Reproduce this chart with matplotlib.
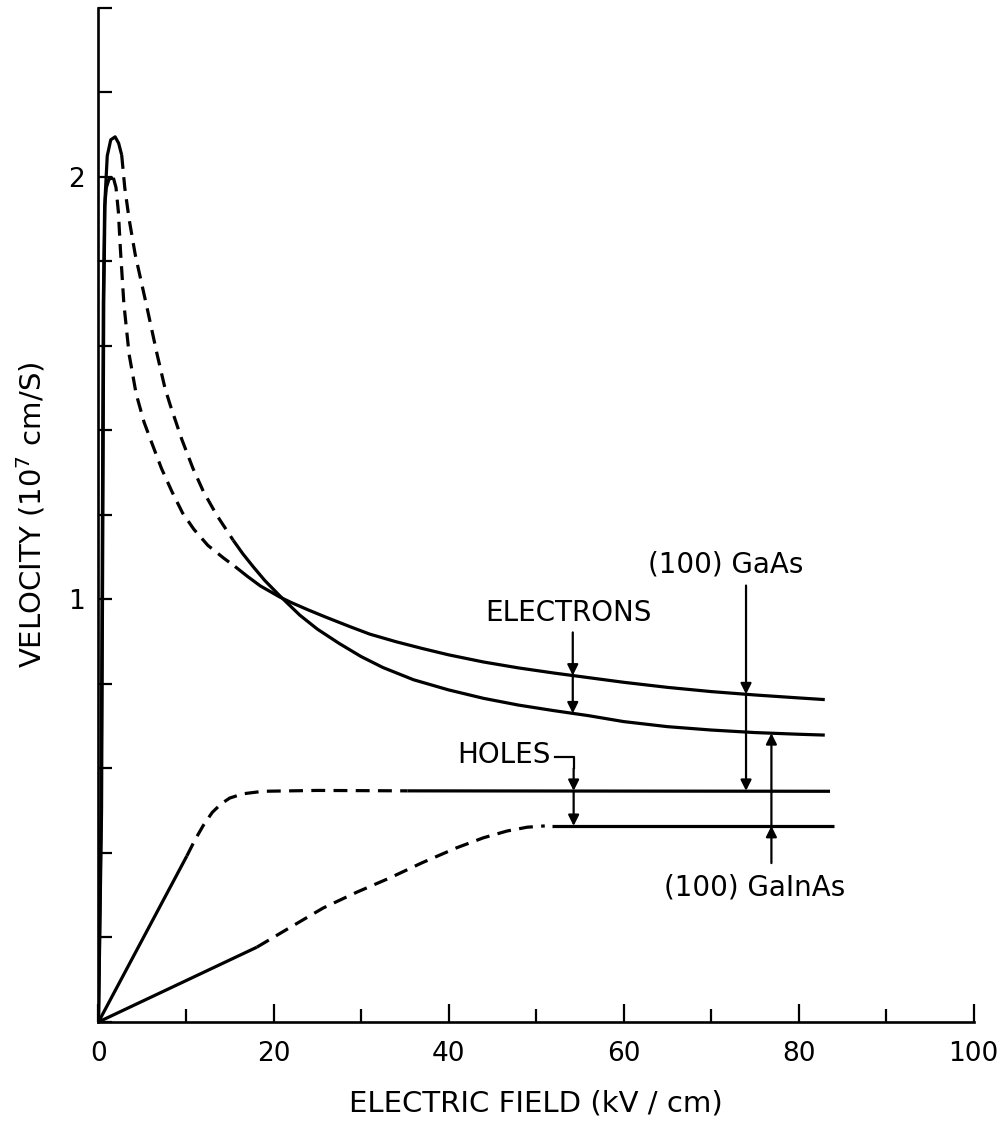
import numpy as np
import matplotlib
matplotlib.use("Agg")
import matplotlib.pyplot as plt
from matplotlib.ticker import MultipleLocator, FixedLocator

# --- data (field in kV/cm, velocity in 1e7 cm/s) ---
# (100) GaInAs electrons: higher, sharper peak, lower saturation
gainas_e_rise_x = [0, 0.35, 0.5, 0.6, 0.75, 1.0, 1.4, 1.9, 2.3, 2.65]
gainas_e_rise_y = [0, 0.5, 1.2, 1.7, 1.95, 2.05, 2.088, 2.095, 2.08, 2.052]
gainas_e_dash_x = [2.65, 3.0, 3.5, 4.2, 5.5, 6.7, 7.6, 8.2, 9.5, 10.8, 12.0, 13.5, 15.4]
gainas_e_dash_y = [2.052, 1.975, 1.90, 1.816, 1.695, 1.58, 1.50, 1.46, 1.38, 1.31, 1.255, 1.20, 1.14]
gainas_e_x = [15.4, 16.5, 17.7, 19.0, 20.7, 23, 25, 27.5, 30, 32.5, 36, 40, 44, 48, 52,
              56, 60, 65, 70, 75, 80, 83]
gainas_e_y = [1.14, 1.108, 1.077, 1.045, 1.009, 0.963, 0.930, 0.896, 0.865, 0.839, 0.810,
              0.786, 0.766, 0.750, 0.737, 0.725, 0.711, 0.699, 0.691, 0.685, 0.681, 0.679]

# (100) GaAs electrons
gaas_e_rise_x = [0, 0.3, 0.45, 0.55, 0.7, 0.9, 1.2, 1.7]
gaas_e_rise_y = [0, 0.5, 1.2, 1.7, 1.93, 1.975, 1.995, 1.998]
gaas_e_dash_x = [1.7, 2.0, 2.27, 2.5, 2.9, 3.5, 4.3, 5.2, 6.1, 7.2, 8.4, 9.6, 10.9,
                 12.5, 14.3, 15.6]
gaas_e_dash_y = [1.998, 1.975, 1.918, 1.83, 1.70, 1.58, 1.487, 1.42, 1.37, 1.31, 1.255,
                 1.205, 1.166, 1.128, 1.098, 1.078]
gaas_e_x = [15.6, 17, 18.5, 20.7, 22, 24, 26, 28.7, 31, 34, 37, 40, 44, 48, 52, 56, 60,
            65, 70, 75, 80, 83]
gaas_e_y = [1.078, 1.055, 1.032, 1.006, 0.993, 0.975, 0.958, 0.936, 0.918, 0.900, 0.884,
            0.869, 0.852, 0.838, 0.826, 0.815, 0.804, 0.792, 0.782, 0.774, 0.767, 0.763]

# (100) GaAs holes
gaas_h_lin_x = [0, 10.1]
gaas_h_lin_y = [0, 0.393]
gaas_h_dash_x = [10.1, 11, 12, 13, 14, 15, 16.5, 18.8, 25, 35.3]
gaas_h_dash_y = [0.393, 0.43, 0.466, 0.496, 0.516, 0.530, 0.540, 0.546, 0.548, 0.547]
gaas_h_x = [35.3, 83.6]
gaas_h_y = [0.547, 0.546]

# (100) GaInAs holes
gainas_h_lin_x = [0, 18.1]
gainas_h_lin_y = [0, 0.177]
gainas_h_dash_x = [18.1, 22, 25.7, 29.5, 33.3, 37, 40.9, 44, 46.7, 49, 51.0]
gainas_h_dash_y = [0.177, 0.225, 0.27, 0.307, 0.341, 0.377, 0.412, 0.436, 0.452, 0.461, 0.464]
gainas_h_x = [51.8, 84]
gainas_h_y = [0.464, 0.464]

plt.rcParams["lines.scale_dashes"] = False
plt.rcParams["font.family"] = "DejaVu Sans"

fig = plt.figure(figsize=(10.02, 11.26), dpi=100)
ax = fig.add_axes([0.0983, 0.0924, 0.8733, 0.9005])

LW = 2.3
DASH = (0, (10, 6))
k = "black"

solid = [(gaas_e_rise_x, gaas_e_rise_y), (gainas_e_rise_x, gainas_e_rise_y),
         (gaas_e_x, gaas_e_y), (gainas_e_x, gainas_e_y),
         (gaas_h_lin_x, gaas_h_lin_y), (gaas_h_x, gaas_h_y),
         (gainas_h_lin_x, gainas_h_lin_y), (gainas_h_x, gainas_h_y)]
dashed = [(gaas_e_dash_x, gaas_e_dash_y), (gainas_e_dash_x, gainas_e_dash_y),
          (gaas_h_dash_x, gaas_h_dash_y), (gainas_h_dash_x, gainas_h_dash_y)]

for xs, ys in solid:
    ax.plot(xs, ys, color=k, lw=LW, solid_capstyle="butt", solid_joinstyle="round")
for xs, ys in dashed:
    ax.plot(xs, ys, color=k, lw=LW, linestyle=DASH)

# --- annotation arrows ---
def arrow(x, y0, y1):
    ax.annotate("", xy=(x, y1), xytext=(x, y0),
                arrowprops=dict(arrowstyle="-|>", color=k, lw=1.6,
                                mutation_scale=16, shrinkA=0, shrinkB=0))

FS = 20

# ELECTRONS
xe = 54.2
ye_top = np.interp(xe, gaas_e_x, gaas_e_y)
ye_bot = np.interp(xe, gainas_e_x, gainas_e_y)
arrow(xe, 0.922, ye_top)
arrow(xe, ye_top, ye_bot)
ax.text(xe - 0.5, 0.935, "ELECTRONS", ha="center", va="bottom", fontsize=FS)

# HOLES
xh = 54.3
ax.plot([52.2, xh, xh], [0.628, 0.628, 0.60], color=k, lw=1.6)
arrow(xh, 0.60, gaas_h_y[0])
arrow(xh, gaas_h_y[0], gainas_h_y[0])
ax.text(51.7, 0.633, "HOLES", ha="right", va="center", fontsize=FS)

# (100) GaAs
xg = 74.0
yg_e = np.interp(xg, gaas_e_x, gaas_e_y)
arrow(xg, 1.033, yg_e)
arrow(xg, yg_e, gaas_h_y[0])
ax.text(71.7, 1.082, "(100) GaAs", ha="center", va="center", fontsize=FS)

# (100) GaInAs
xi = 76.9
yi_e = np.interp(xi, gainas_e_x, gainas_e_y)
arrow(xi, 0.376, gainas_h_y[0])
arrow(xi, gainas_h_y[0], yi_e)
ax.text(75.0, 0.318, "(100) GaInAs", ha="center", va="center", fontsize=FS)

# --- axes styling ---
ax.set_xlim(0, 100)
ax.set_ylim(0, 2.4)
for s in ("top", "right"):
    ax.spines[s].set_visible(False)
for s in ("left", "bottom"):
    ax.spines[s].set_linewidth(1.9)

ax.xaxis.set_major_locator(MultipleLocator(20))
ax.xaxis.set_minor_locator(MultipleLocator(10))
ax.yaxis.set_major_locator(FixedLocator([1, 2]))
ax.yaxis.set_minor_locator(MultipleLocator(0.2))
ax.tick_params(axis="x", which="major", direction="in", length=13, width=1.6,
               labelsize=19, pad=14)
ax.tick_params(axis="x", which="minor", direction="in", length=9.5, width=1.6)
ax.tick_params(axis="y", which="both", direction="in", length=10, width=1.6,
               labelsize=19, pad=10)

ax.set_xlabel("ELECTRIC FIELD (kV / cm)", fontsize=21, labelpad=16)
ax.set_ylabel("VELOCITY (10$^7$ cm/S)", fontsize=21, labelpad=15)

fig.savefig("out.png", dpi=100)
